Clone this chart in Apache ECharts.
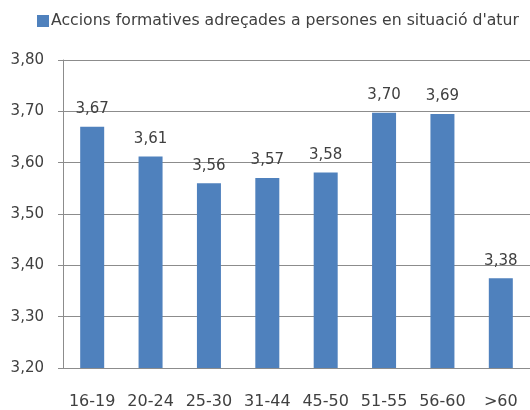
<!DOCTYPE html>
<html>
<head>
<meta charset="utf-8">
<script src="https://cdn.jsdelivr.net/npm/echarts@6/dist/echarts.min.js"></script>
<style>
  html, body { margin: 0; padding: 0; background: #fff; }
  #barChart { width: 530px; height: 410px; }
</style>
</head>
<body>
<div id="barChart"></div>
<script>
var categories = ['16-19', '20-24', '25-30', '31-44', '45-50', '51-55', '56-60', '>60'];
var values = [3.67, 3.612, 3.56, 3.57, 3.581, 3.697, 3.695, 3.375];
var seriesName = "Accions formatives adreçades a persones en situació d'atur";

function fmt(v) {
  return v.toFixed(2).replace('.', ',');
}

function initBarChart() {
  var dom = document.getElementById("barChart");
  var myChart = echarts.init(dom);
  var option = {
    backgroundColor: '#fff',
    animation: false,
    textStyle: { fontFamily: 'DejaVu Sans', color: '#404040' },
    legend: {
      left: 32,
      top: 8,
      itemWidth: 12,
      itemHeight: 12,
      itemGap: 3,
      icon: 'rect',
      textStyle: { fontFamily: 'DejaVu Sans', fontSize: 15.7, color: '#404040', padding: [0, 0, 0, -3] },
      data: [seriesName]
    },
    grid: {
      left: 63,
      top: 60,
      width: 480,
      height: 309
    },
    xAxis: [
      {
        type: 'category',
        data: categories,
        axisLine: { lineStyle: { color: '#8c8c8c' } },
        axisTick: { length: 6, lineStyle: { color: '#8c8c8c' } },
        axisLabel: { interval: 0, fontFamily: 'DejaVu Sans', fontSize: 16, color: '#404040', margin: 26 }
      }
    ],
    yAxis: [
      {
        type: 'value',
        min: 3.2,
        max: 3.8,
        interval: 0.1,
        axisLine: { show: true, lineStyle: { color: '#8c8c8c' } },
        axisTick: { show: true, length: 5, lineStyle: { color: '#8c8c8c' } },
        splitLine: { lineStyle: { color: '#8c8c8c' } },
        axisLabel: {
          fontFamily: 'DejaVu Sans',
          fontSize: 15,
          color: '#404040',
          margin: 19,
          formatter: function (v) { return fmt(v); }
        }
      }
    ],
    series: [
      {
        name: seriesName,
        type: 'bar',
        barWidth: 24,
        itemStyle: { color: '#4F81BD' },
        label: {
          show: true,
          position: 'top',
          distance: 10,
          fontFamily: 'DejaVu Sans',
          fontSize: 15,
          color: '#404040',
          formatter: function (p) { return fmt(p.value); }
        },
        data: values
      }
    ]
  };
  myChart.setOption(option, true);
}

initBarChart();
</script>
</body>
</html>
